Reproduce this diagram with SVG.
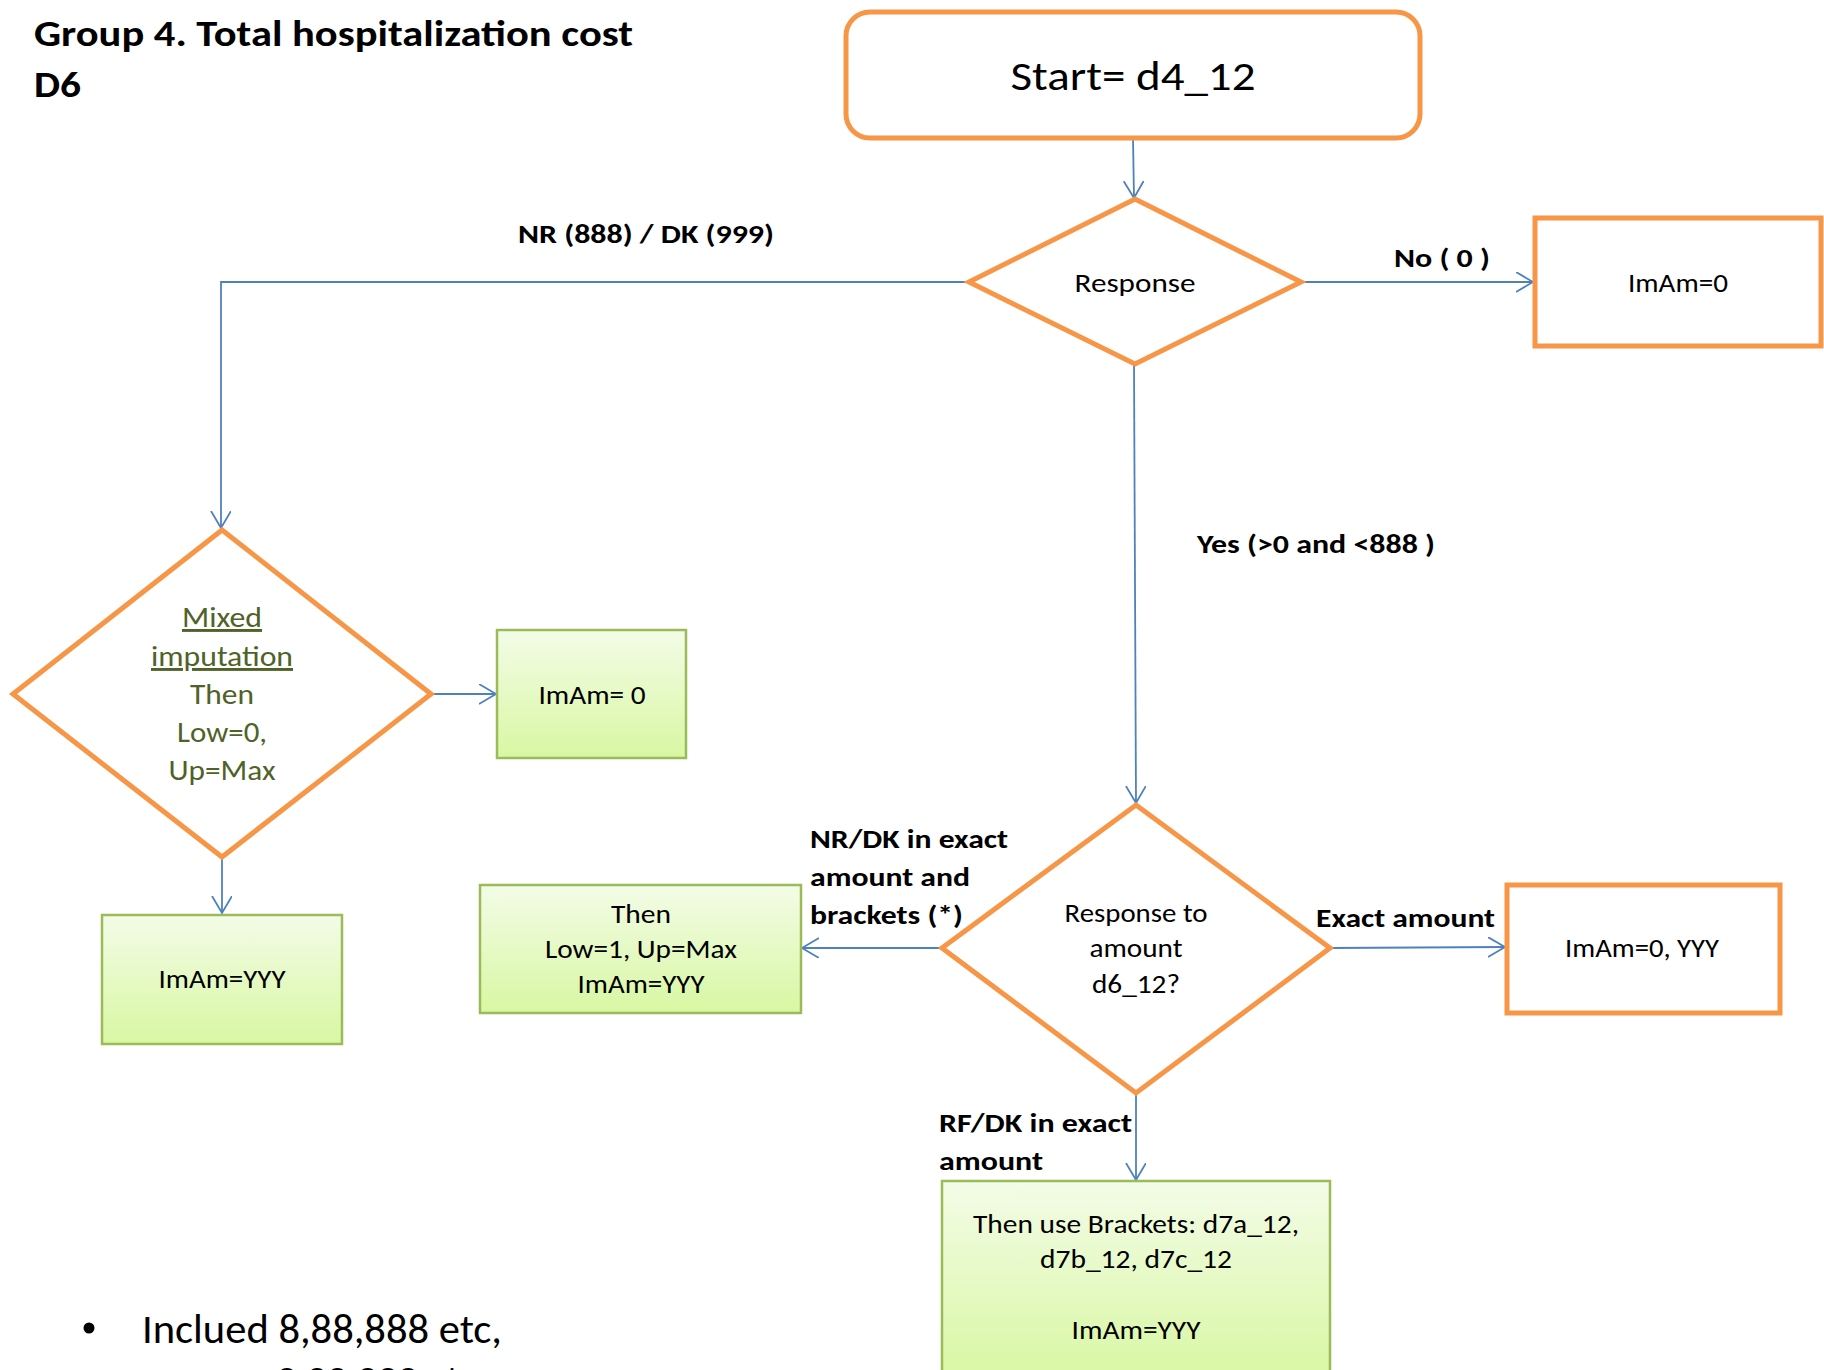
<svg xmlns="http://www.w3.org/2000/svg" width="1824" height="1370" viewBox="0 0 1824 1370">
<style>
text{font-family:Carlito,Lato,"Liberation Sans",sans-serif;fill:#000;}
.b{font-weight:bold;}
.m{text-anchor:middle;}
.lbl{font-size:27px;font-weight:bold;}
.box{font-size:26px;}
.grn{fill:#4F6228;}
.or{fill:#fff;stroke:#F79646;stroke-width:5;}
.gr{fill:url(#g);stroke:#9BBB59;stroke-width:2.5;}
.cn{fill:none;stroke:#4F81BD;stroke-width:1.8;marker-end:url(#ah);}
</style>
<defs>
<linearGradient id="g" x1="0" y1="0" x2="0" y2="1">
<stop offset="0" stop-color="#F3FCE7"/>
<stop offset="1" stop-color="#D8F7A2"/>
</linearGradient>
<marker id="ah" markerUnits="userSpaceOnUse" markerWidth="20" markerHeight="22" refX="17" refY="10" orient="auto" viewBox="0 0 20 22">
<path d="M0,0 L17,10 L0,20" fill="none" stroke="#4F81BD" stroke-width="1.8"/>
</marker>
</defs>
<rect width="1824" height="1370" fill="#fff"/>

<g id="title">
<text class="b" x="34" y="46" font-size="37" textLength="599" lengthAdjust="spacingAndGlyphs">Group 4. Total hospitalization cost</text>
<text class="b" x="34" y="97" font-size="37" textLength="47" lengthAdjust="spacingAndGlyphs">D6</text>
</g>

<g id="connectors">
<path class="cn" d="M1133,139 L1134,198"/>
<path class="cn" d="M1301,282 L1533,282"/>
<path class="cn" d="M968,282 L221,282 L221,528"/>
<path class="cn" d="M1134,364 L1136,803"/>
<path class="cn" d="M431,694 L496,694"/>
<path class="cn" d="M222,857 L222,913"/>
<path class="cn" d="M942,948 L802,948"/>
<path class="cn" d="M1330,948 L1505,947"/>
<path class="cn" d="M1136,1093 L1136,1180"/>
</g>

<g id="edge-labels">
<text class="lbl" x="518" y="243" textLength="256" lengthAdjust="spacingAndGlyphs">NR (888) / DK (999)</text>
<text class="lbl" x="1394" y="267" textLength="96" lengthAdjust="spacingAndGlyphs">No ( 0 )</text>
<text class="lbl" x="1197" y="553" textLength="238" lengthAdjust="spacingAndGlyphs">Yes (&gt;0 and &lt;888 )</text>
<text class="lbl" x="810" y="848" textLength="198" lengthAdjust="spacingAndGlyphs">NR/DK in exact</text>
<text class="lbl" x="810" y="886" textLength="160" lengthAdjust="spacingAndGlyphs">amount and</text>
<text class="lbl" x="810" y="924" textLength="153" lengthAdjust="spacingAndGlyphs">brackets (*)</text>
<text class="lbl" x="1316" y="927" textLength="179" lengthAdjust="spacingAndGlyphs">Exact amount</text>
<text class="lbl" x="939" y="1132" textLength="193" lengthAdjust="spacingAndGlyphs">RF/DK in exact</text>
<text class="lbl" x="939" y="1170" textLength="104" lengthAdjust="spacingAndGlyphs">amount</text>
</g>

<g id="start">
<rect class="or" x="846" y="12" width="574" height="126" rx="24"/>
<text class="m" x="1133" y="90" font-size="40" textLength="245" lengthAdjust="spacingAndGlyphs">Start= d4_12</text>
</g>

<g id="response">
<polygon class="or" points="1135,199 1301,282 1135,364 969,282"/>
<text class="m" x="1135" y="292" font-size="27" textLength="121" lengthAdjust="spacingAndGlyphs">Response</text>
</g>

<g id="imam0-top">
<rect class="or" x="1535" y="218" width="286" height="128"/>
<text class="m box" x="1678" y="292" textLength="100" lengthAdjust="spacingAndGlyphs">ImAm=0</text>
</g>

<g id="mixed">
<polygon class="or" points="222,530 431,694 222,857 13,694"/>
<text class="m grn" x="222" y="627" font-size="29" text-decoration="underline" textLength="80" lengthAdjust="spacingAndGlyphs">Mixed</text>
<text class="m grn" x="222" y="666" font-size="29" text-decoration="underline" textLength="142" lengthAdjust="spacingAndGlyphs">imputation</text>
<text class="m grn" x="222" y="704" font-size="29" textLength="64" lengthAdjust="spacingAndGlyphs">Then</text>
<text class="m grn" x="222" y="742" font-size="29" textLength="90" lengthAdjust="spacingAndGlyphs">Low=0,</text>
<text class="m grn" x="222" y="780" font-size="29" textLength="107" lengthAdjust="spacingAndGlyphs">Up=Max</text>
</g>

<g id="imam0-left">
<rect class="gr" x="497" y="630" width="189" height="128"/>
<text class="m box" x="592" y="704" textLength="107" lengthAdjust="spacingAndGlyphs">ImAm= 0</text>
</g>

<g id="imamyyy-left">
<rect class="gr" x="102" y="915" width="240" height="129"/>
<text class="m box" x="222" y="988" textLength="127" lengthAdjust="spacingAndGlyphs">ImAm=YYY</text>
</g>

<g id="then-box">
<rect class="gr" x="480" y="885" width="321" height="128"/>
<text class="m box" x="641" y="923" textLength="60" lengthAdjust="spacingAndGlyphs">Then</text>
<text class="m box" x="641" y="958" textLength="192" lengthAdjust="spacingAndGlyphs">Low=1, Up=Max</text>
<text class="m box" x="641" y="993" textLength="127" lengthAdjust="spacingAndGlyphs">ImAm=YYY</text>
</g>

<g id="response-amount">
<polygon class="or" points="1136,805 1330,948 1136,1093 942,948"/>
<text class="m box" x="1136" y="922" textLength="143" lengthAdjust="spacingAndGlyphs">Response to</text>
<text class="m box" x="1136" y="957" textLength="93" lengthAdjust="spacingAndGlyphs">amount</text>
<text class="m box" x="1136" y="993" textLength="88" lengthAdjust="spacingAndGlyphs">d6_12?</text>
</g>

<g id="exact-box">
<rect class="or" x="1507" y="885" width="273" height="128"/>
<text class="m box" x="1642" y="957" textLength="154" lengthAdjust="spacingAndGlyphs">ImAm=0, YYY</text>
</g>

<g id="brackets-box">
<rect class="gr" x="942" y="1181" width="388" height="200"/>
<text class="m box" x="1136" y="1233" textLength="326" lengthAdjust="spacingAndGlyphs">Then use Brackets: d7a_12,</text>
<text class="m box" x="1136" y="1268" textLength="192" lengthAdjust="spacingAndGlyphs">d7b_12, d7c_12</text>
<text class="m box" x="1136" y="1339" textLength="129" lengthAdjust="spacingAndGlyphs">ImAm=YYY</text>
</g>

<g id="note">
<circle cx="89" cy="1328" r="5.5" fill="#000"/>
<text x="142" y="1343" font-size="40" textLength="360" lengthAdjust="spacingAndGlyphs">Inclued 8,88,888 etc,</text>
<text x="276" y="1394" font-size="40">9,99,999 etc,</text>
</g>
</svg>
